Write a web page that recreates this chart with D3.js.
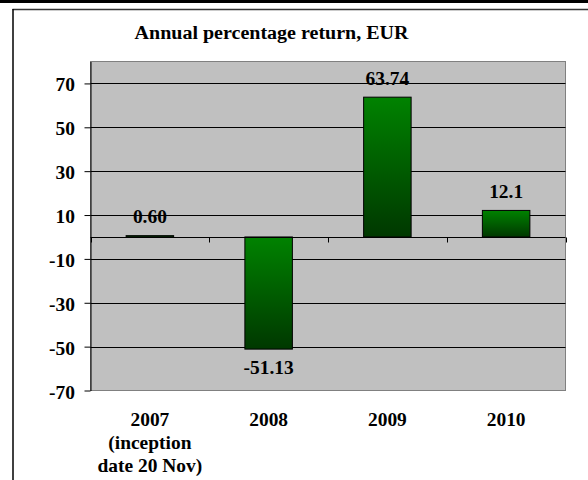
<!DOCTYPE html>
<html>
<head>
<meta charset="utf-8">
<script src="https://cdn.jsdelivr.net/npm/d3@7"></script>
<style>
  html, body { margin: 0; padding: 0; background: #fff; }
  svg { display: block; }
  text { font-family: "Liberation Serif", "Times New Roman", serif; font-weight: bold; fill: #000; }
</style>
</head>
<body>
<script>
// ---- data ----
const categories = ["2007", "2008", "2009", "2010"];
const categoryLines = [["2007", "(inception", "date 20 Nov)"], ["2008"], ["2009"], ["2010"]];
const values = [0.60, -51.13, 63.74, 12.1];
const valueLabels = ["0.60", "-51.13", "63.74", "12.1"];
const yTicks = [-70, -50, -30, -10, 10, 30, 50, 70];
const yDomain = [-70, 80];
const title = "Annual percentage return, EUR";

// ---- layout ----
const W = 588, H = 480;
const plot = { left: 90.5, right: 565.5, top: 61.5, bottom: 390.5 };
const SX = 1.08; // horizontal stretch of the serif text
const FS = 18;

const svg = d3.select("body").append("svg").attr("width", W).attr("height", H);

// outer frame (cropped)
svg.append("rect").attr("x", 0).attr("y", 0).attr("width", W).attr("height", 3).attr("fill", "#000");
svg.append("line").attr("x1", 12.5).attr("x2", W).attr("y1", 9.5).attr("y2", 9.5)
  .attr("stroke", "#333").attr("stroke-width", 1.5);
svg.append("line").attr("x1", 13).attr("x2", 13).attr("y1", 9).attr("y2", H)
  .attr("stroke", "#000").attr("stroke-width", 1.5);

function stretchedText(g, x, y, str, anchor, sx, fs) {
  return g.append("text")
    .attr("transform", `translate(${x},${y}) scale(${sx || SX},1)`)
    .attr("text-anchor", anchor || "middle")
    .attr("font-size", fs || FS)
    .text(str);
}

// title
stretchedText(svg, 271.5, 39, title, "middle", 1.1, 18.2);

// scales
const y = d3.scaleLinear().domain(yDomain).range([plot.bottom, plot.top]);
const x = d3.scaleBand().domain(categories).range([plot.left, plot.right])
  .paddingInner(0.6).paddingOuter(0.3);
const xCat = d3.scaleBand().domain(categories).range([plot.left, plot.right]).padding(0);

// plot background
svg.append("rect")
  .attr("x", plot.left).attr("y", plot.top)
  .attr("width", plot.right - plot.left).attr("height", plot.bottom - plot.top)
  .attr("fill", "#c0c0c0").attr("stroke", "#808080").attr("stroke-width", 1);

// gridlines
svg.append("g").selectAll("line").data(yTicks.filter(d => d !== yDomain[0])).join("line")
  .attr("x1", plot.left).attr("x2", plot.right)
  .attr("y1", d => Math.round(y(d)) + 0.5).attr("y2", d => Math.round(y(d)) + 0.5)
  .attr("stroke", "#000").attr("stroke-width", 1);

// y axis
const yAxis = svg.append("g").attr("transform", `translate(${plot.left},0)`)
  .call(d3.axisLeft(y).tickValues(yTicks).tickSize(6).tickSizeOuter(0)
    .tickFormat(d => String(d)));
yAxis.select(".domain").attr("stroke", "#000");
yAxis.selectAll(".tick line").attr("stroke", "#000");
yAxis.selectAll(".tick text")
  .attr("x", null).attr("dy", null)
  .attr("transform", `translate(-15.5,7.5) scale(${SX},1)`)
  .attr("font-size", FS)
  .attr("font-family", "Liberation Serif, Times New Roman, serif")
  .attr("font-weight", "bold")
  .attr("fill", "#000");

// gradient
const defs = svg.append("defs");
const grad = defs.append("linearGradient").attr("id", "barGrad")
  .attr("x1", 0).attr("y1", 0).attr("x2", 0).attr("y2", 1);
grad.append("stop").attr("offset", "0%").attr("stop-color", "#008200");
grad.append("stop").attr("offset", "100%").attr("stop-color", "#003800");

// bars
const data = categories.map((c, i) => ({ c, v: values[i], label: valueLabels[i], lines: categoryLines[i] }));
svg.append("g").selectAll("rect").data(data).join("rect")
  .attr("x", d => x(d.c))
  .attr("y", d => y(Math.max(0, d.v)))
  .attr("width", x.bandwidth())
  .attr("height", d => Math.abs(y(d.v) - y(0)))
  .attr("fill", "url(#barGrad)")
  .attr("stroke", "#000").attr("stroke-width", 1);

// category axis at zero
const zeroY = Math.round(y(0)) + 0.5;
svg.append("line").attr("x1", plot.left).attr("x2", plot.right)
  .attr("y1", zeroY).attr("y2", zeroY).attr("stroke", "#000").attr("stroke-width", 1);
const tickXs = categories.map(c => xCat(c)).concat([plot.right]);
svg.append("g").selectAll("line").data(tickXs).join("line")
  .attr("x1", d => Math.round(d) + 0.5).attr("x2", d => Math.round(d) + 0.5)
  .attr("y1", zeroY).attr("y2", zeroY + 5)
  .attr("stroke", "#000").attr("stroke-width", 1);

// data labels
const lblG = svg.append("g");
data.forEach(d => {
  const cx = x(d.c) + x.bandwidth() / 2;
  const yy = d.v >= 0 ? y(d.v) - 12.5 : y(d.v) + 25;
  stretchedText(lblG, cx, yy, d.label, "middle");
});

// category labels
const catG = svg.append("g");
data.forEach(d => {
  const cx = xCat(d.c) + xCat.bandwidth() / 2;
  d.lines.forEach((ln, j) => stretchedText(catG, cx, 426 + j * 23, ln, "middle"));
});
</script>
</body>
</html>
